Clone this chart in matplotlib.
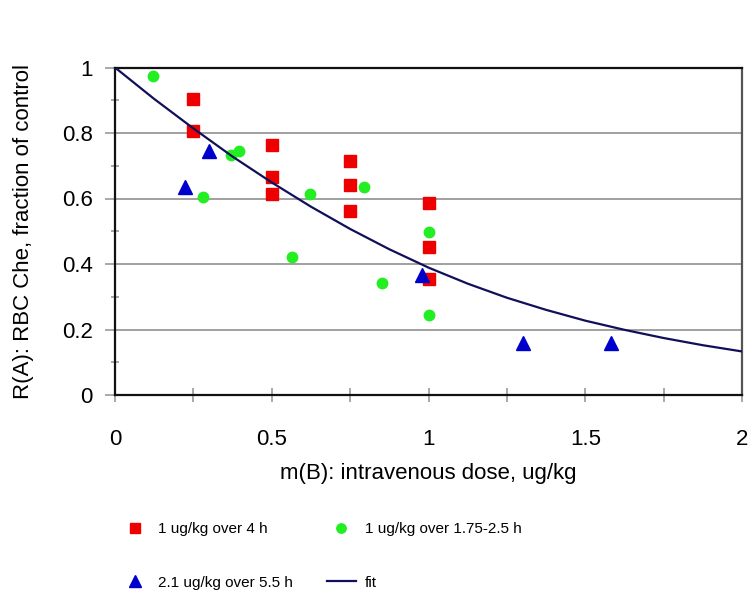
"""RBC ChE fraction of control vs intravenous dose, with fitted curve."""

import matplotlib
matplotlib.use("Agg")
from matplotlib import pyplot as plt
from matplotlib.ticker import MultipleLocator

plt.rcParams["font.family"] = ["Liberation Sans", "DejaVu Sans"]

# 1 ug/kg over 4 h
red_x = [0.25, 0.25, 0.5, 0.5, 0.5, 0.75, 0.75, 0.75, 1.0, 1.0, 1.0]
red_y = [0.904, 0.806, 0.763, 0.667, 0.613, 0.714, 0.641, 0.562, 0.585, 0.451, 0.353]

# 1 ug/kg over 1.75-2.5 h
green_x = [0.122, 0.282, 0.369, 0.397, 0.564, 0.622, 0.794, 0.851, 1.0, 1.0]
green_y = [0.975, 0.606, 0.733, 0.746, 0.420, 0.614, 0.636, 0.341, 0.499, 0.244]

# 2.1 ug/kg over 5.5 h
blue_x = [0.224, 0.30, 0.978, 1.303, 1.582]
blue_y = [0.634, 0.746, 0.366, 0.160, 0.158]

# fitted curve
fit_x = [0, 0.125, 0.25, 0.375, 0.5, 0.625, 0.75, 0.875, 1.0,
         1.125, 1.25, 1.375, 1.5, 1.625, 1.75, 1.875, 2.0]
fit_y = [1.0, 0.904, 0.814, 0.728, 0.649, 0.575, 0.507, 0.445, 0.389,
         0.340, 0.297, 0.260, 0.227, 0.199, 0.174, 0.152, 0.133]

fig = plt.figure(figsize=(7.49, 5.90), dpi=100)
ax = fig.add_axes([115 / 749, 1 - 395 / 590, 627 / 749, 327.5 / 590])

red, = ax.plot(red_x, red_y, "s", color="#ee0000", markersize=8.5,
               linestyle="none", label="1 ug/kg over 4 h")
green, = ax.plot(green_x, green_y, "o", color="#22ee22", markersize=7.5,
                 linestyle="none", label="1 ug/kg over 1.75-2.5 h")
blue, = ax.plot(blue_x, blue_y, "^", color="#0000cc", markersize=9.5,
                linestyle="none", label="2.1 ug/kg over 5.5 h")
fit, = ax.plot(fit_x, fit_y, "-", color="#10105a", linewidth=1.6,
               label="fit", zorder=5)

ax.set_xlim(0, 2)
ax.set_ylim(0, 1)

# gray horizontal gridlines, as in the original spreadsheet chart
ax.yaxis.set_major_locator(MultipleLocator(0.2))
ax.yaxis.set_minor_locator(MultipleLocator(0.1))
ax.xaxis.set_major_locator(MultipleLocator(0.5))
ax.xaxis.set_minor_locator(MultipleLocator(0.25))
ax.grid(axis="y", which="major", color="#999999", linewidth=1.3)
ax.set_axisbelow(True)

ax.set_yticks([0, 0.2, 0.4, 0.6, 0.8, 1.0])
ax.set_yticklabels(["0", "0.2", "0.4", "0.6", "0.8", "1"])
ax.set_xticks([0, 0.5, 1.0, 1.5, 2.0])
ax.set_xticklabels(["0", "0.5", "1", "1.5", "2"])

ax.tick_params(axis="y", which="major", direction="out", length=7,
               width=1.2, color="#999999", labelsize=16, pad=9)
ax.tick_params(axis="y", which="minor", direction="inout", length=6,
               width=1.2, color="#999999")
ax.tick_params(axis="x", which="both", direction="inout", length=10,
               width=1.2, color="#999999", labelsize=16, pad=19.5)

for side in ["left", "bottom", "top"]:
    ax.spines[side].set_color("#111111")
    ax.spines[side].set_linewidth(1.6)
ax.spines["right"].set_color("#555555")
ax.spines["right"].set_linewidth(1.6)

ax.set_xlabel("m(B): intravenous dose, ug/kg", fontsize=16, labelpad=9)
ax.set_ylabel("R(A): RBC Che, fraction of control", fontsize=16, labelpad=20)

fig.legend(handles=[red, blue, green, fit], ncol=2, frameon=False,
           loc="upper left", bbox_to_anchor=(120 / 749, 1 - 522 / 590),
           borderaxespad=0, borderpad=0, fontsize=11, labelspacing=2.6,
           handlelength=1.9, handletextpad=0.6, columnspacing=2.2,
           markerscale=0.9)

plt.savefig("out.png", dpi=100)
